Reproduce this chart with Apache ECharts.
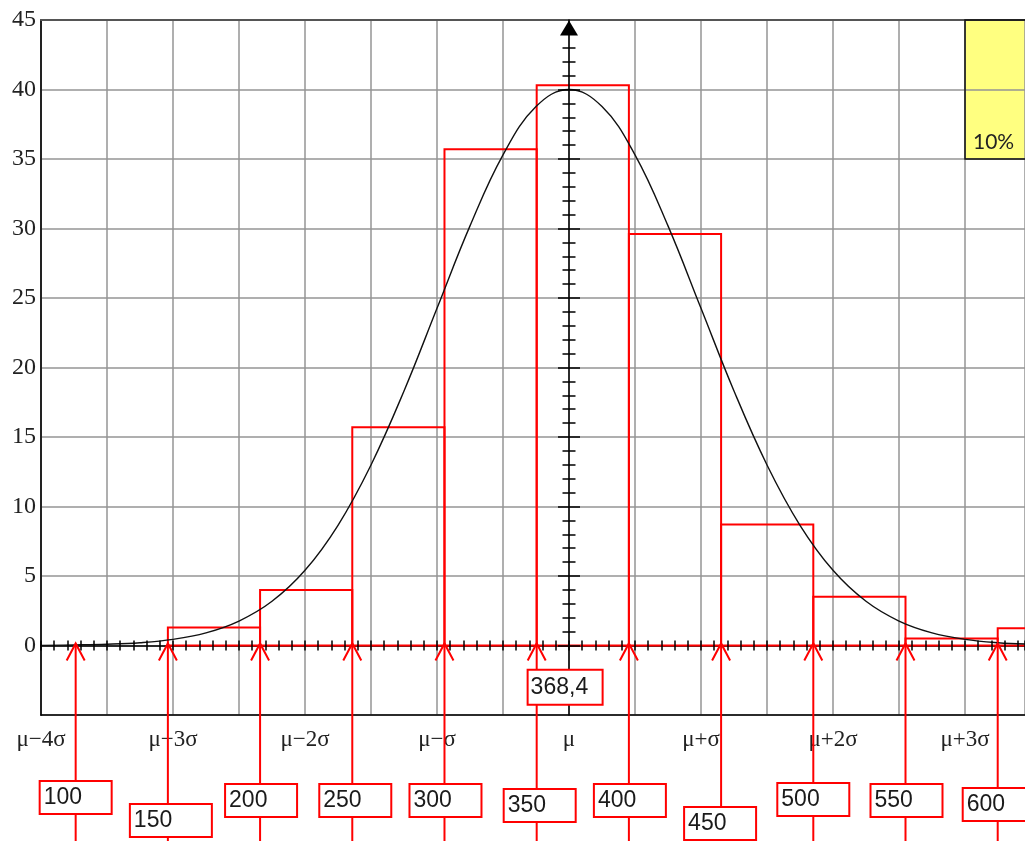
<!DOCTYPE html>
<html>
<head>
<meta charset="utf-8">
<script src="https://cdn.jsdelivr.net/npm/echarts@6/dist/echarts.min.js"></script>
<style>
  html, body { margin: 0; padding: 0; background: #ffffff; }
  #chart { width: 1025px; height: 841px; }
</style>
</head>
<body>
<div id="chart"></div>
<script>
// ---- data ----------------------------------------------------------------
const mean = 368.4;
const meanLabel = '368,4';

// histogram classes: lower bound, upper bound, bar height
const binLower = [150, 200, 250, 300, 350, 400, 450, 500, 550, 600];
const binUpper = [200, 250, 300, 350, 400, 450, 500, 550, 600, 650];
const binHeight = [1.3, 4.0, 15.7, 35.7, 40.3, 29.6, 8.7, 3.5, 0.5, 1.25];

// class boundaries pointed at from below the axis
const boundaries = [100, 150, 200, 250, 300, 350, 400, 450, 500, 550, 600];

// normal curve, x in sigma units from the mean
const curveZ = [-4, -3.75, -3.5, -3.25, -3, -2.75, -2.5, -2.25, -2, -1.75, -1.5, -1.25,
  -1, -0.75, -0.5, -0.25, 0, 0.25, 0.5, 0.75, 1, 1.25, 1.5, 1.75, 2, 2.25, 2.5, 2.75,
  3, 3.25, 3.5, 3.75];
const curveY = [0.01, 0.04, 0.09, 0.2, 0.44, 0.91, 1.76, 3.18, 5.41, 8.65, 12.99, 18.31,
  24.26, 30.19, 35.3, 38.77, 40, 38.77, 35.3, 30.19, 24.26, 18.31, 12.99, 8.65, 5.41, 3.18,
  1.76, 0.91, 0.44, 0.2, 0.09, 0.04];

// sigma scale labels
const sigmaTicks = [-4, -3, -2, -1, 0, 1, 2, 3];
const sigmaLabels = ['μ−4σ', 'μ−3σ', 'μ−2σ', 'μ−σ', 'μ', 'μ+σ', 'μ+2σ', 'μ+3σ'];

// upper tail note
const tailFrom = 3;          // sigma units
const tailBand = [35, 45];   // y range of the note box
const tailText = '10%';

// y axis
const yMin = -5, yMax = 45, yStep = 5;

// ---- layout --------------------------------------------------------------
const zMin = -4, zMax = 3.4545;       // sigma-axis extent
const vMin = 81.2, vMax = 614.8;      // value-axis extent
const tagDrop = [66, 89, 69, 69, 69, 74, 69, 92, 68, 69, 73]; // px below plot bottom
const tagWidth = [72, 82, 72, 72, 72, 72, 72, 72, 72, 72, 72];
const tagShift = [-36, -38, -35, -33, -35, -33, -35, -37, -36, -35, -35];

const RED = '#ff0000';
const GRID = '#959595';
const TAG_FONT = '23px "Liberation Sans", Arial, sans-serif';

const longTicks = [];
const shortTicks = [];
for (let v = 0; v < yMax; v++) {
  if (v % 5 === 0) longTicks.push(v); else shortTicks.push(v);
}

function sigmaLabel(v) {
  const k = Math.round(v);
  if (Math.abs(v - k) > 1e-6) return '';
  const i = sigmaTicks.indexOf(k);
  return i >= 0 ? sigmaLabels[i] : '';
}

const hiddenParts = {
  axisLabel: { show: false },
  splitLine: { show: false },
  axisTick: { show: false }
};

function zeroTickAxis(inside) {
  return {
    type: 'value', min: zMin, max: zMax, interval: 0.1, z: 3,
    axisLine: { show: false, onZero: true, onZeroAxisIndex: 0 },
    axisTick: { show: true, inside: inside, length: 5, lineStyle: { color: '#000', width: 1.5 } },
    axisLabel: { show: false }, splitLine: { show: false }
  };
}

function meanTickAxis(values, len, inside) {
  return {
    type: 'value', min: yMin, max: yMax, z: 3,
    axisLine: { show: false, onZero: true, onZeroAxisIndex: 0 },
    axisTick: { show: true, inside: inside, length: len, customValues: values,
      lineStyle: { color: '#000', width: 1.5 } },
    axisLabel: { show: false }, splitLine: { show: false }
  };
}

const chart = echarts.init(document.getElementById('chart'), null, { renderer: 'canvas' });

chart.setOption({
  animation: false,
  backgroundColor: '#ffffff',
  grid: { left: 41, right: 0, top: 20, bottom: 126, containLabel: false, outerBoundsMode: 'none' },
  xAxis: [
    { // sigma scale: grid lines and labels
      type: 'value', min: zMin, max: zMax, interval: 0.5, position: 'bottom', z: 1,
      axisLine: { show: true, onZero: false, lineStyle: { color: '#000', width: 1.5 } },
      axisTick: { show: false },
      axisLabel: {
        show: true, margin: 13, formatter: sigmaLabel, color: '#222',
        fontFamily: '"Liberation Serif", "DejaVu Serif", serif', fontSize: 23,
        showMinLabel: true, showMaxLabel: false
      },
      splitLine: { show: true, lineStyle: { color: GRID, width: 1.5 } }
    },
    { // value scale for the histogram and boundary tags
      type: 'value', min: vMin, max: vMax, show: false
    },
    { // top frame
      type: 'value', min: zMin, max: zMax, position: 'top', z: 1,
      axisLine: { show: true, onZero: false, lineStyle: { color: '#555', width: 2 } },
      ...hiddenParts
    },
    { // zero line
      type: 'value', min: zMin, max: zMax, z: 1,
      axisLine: { show: true, onZero: true, onZeroAxisIndex: 0, lineStyle: { color: '#000', width: 1.5 } },
      ...hiddenParts
    },
    zeroTickAxis(false),
    zeroTickAxis(true)
  ],
  yAxis: [
    {
      type: 'value', min: yMin, max: yMax, interval: yStep, position: 'left', z: 1,
      axisLine: { show: true, onZero: false, lineStyle: { color: '#222', width: 2 } },
      axisTick: { show: false },
      axisLabel: {
        show: true, margin: 5, color: '#222',
        fontFamily: '"Liberation Serif", "DejaVu Serif", serif', fontSize: 24,
        formatter: v => (v < 0 ? '' : String(v))
      },
      splitLine: { show: true, lineStyle: { color: GRID, width: 1.5 } }
    },
    { // vertical axis through the mean, with arrow head
      type: 'value', min: yMin, max: yMax, z: 3,
      axisLine: {
        show: true, onZero: true, onZeroAxisIndex: 0,
        symbol: ['none', 'triangle'], symbolSize: [18, 15], symbolOffset: [0, -8],
        lineStyle: { color: '#000', width: 1.5 }
      },
      ...hiddenParts
    },
    meanTickAxis(longTicks, 11, false),
    meanTickAxis(longTicks, 11, true),
    meanTickAxis(shortTicks, 6.5, false),
    meanTickAxis(shortTicks, 6.5, true)
  ],
  series: [
    { // tail note fill
      type: 'custom', xAxisIndex: 0, yAxisIndex: 0, z: 0, silent: true,
      data: [[tailFrom, tailBand[0], tailBand[1]]],
      renderItem(params, api) {
        const a = api.coord([api.value(0), api.value(2)]);
        const b = api.coord([api.value(0), api.value(1)]);
        return {
          type: 'rect',
          shape: { x: a[0], y: a[1], width: api.getWidth() - a[0] + 5, height: b[1] - a[1] },
          style: { fill: '#ffff80' }
        };
      }
    },
    { // histogram bars
      type: 'custom', xAxisIndex: 1, yAxisIndex: 0, z: 2, silent: true,
      encode: { x: [0, 1], y: 2 },
      data: binLower.map((lo, i) => [lo, binUpper[i], binHeight[i]]),
      renderItem(params, api) {
        const p0 = api.coord([api.value(0), api.value(2)]);
        const p1 = api.coord([api.value(1), 0]);
        return {
          type: 'rect',
          shape: { x: p0[0], y: p0[1], width: p1[0] - p0[0], height: p1[1] - p0[1] },
          style: { fill: 'transparent', stroke: RED, lineWidth: 2 }
        };
      }
    },
    { // normal curve
      type: 'line', xAxisIndex: 0, yAxisIndex: 0, z: 2, silent: true,
      data: curveZ.map((z, i) => [z, curveY[i]]),
      showSymbol: false, symbol: 'none', smooth: 0.4,
      lineStyle: { color: '#111', width: 1.4 }
    },
    { // tail note border and text
      type: 'custom', xAxisIndex: 0, yAxisIndex: 0, z: 3, silent: true,
      data: [[tailFrom, tailBand[0], tailBand[1]]],
      renderItem(params, api) {
        const a = api.coord([api.value(0), api.value(2)]);
        const b = api.coord([api.value(0), api.value(1)]);
        const r = api.getWidth() + 5;
        return {
          type: 'group',
          children: [
            { type: 'polyline',
              shape: { points: [[r, a[1]], [a[0], a[1]], [a[0], b[1]], [r, b[1]]] },
              style: { fill: null, stroke: '#111', lineWidth: 1.5 } },
            { type: 'text', x: a[0] + 8, y: b[1] - 17,
              style: { text: tailText, fill: '#222', font: '21px Lato, "Open Sans", sans-serif',
                align: 'left', verticalAlign: 'middle' } }
          ]
        };
      }
    },
    { // boundary arrows with their value tags
      type: 'custom', xAxisIndex: 1, yAxisIndex: 0, z: 5, silent: true, clip: false,
      data: boundaries.map((b, i) => [b, i]),
      renderItem(params, api) {
        const v = api.value(0);
        const i = api.value(1);
        const p = api.coord([v, 0]);
        const bottom = api.coord([v, yMin])[1];
        const x = p[0], y0 = p[1];
        const top = bottom + tagDrop[i];
        const left = x + tagShift[i];
        return {
          type: 'group',
          children: [
            { type: 'line', shape: { x1: x, y1: y0 - 2, x2: x, y2: api.getHeight() + 2 },
              style: { stroke: RED, lineWidth: 2 } },
            { type: 'polyline', shape: { points: [[x - 9, y0 + 15], [x, y0 - 2], [x + 9, y0 + 15]] },
              style: { fill: null, stroke: RED, lineWidth: 2 } },
            { type: 'rect', shape: { x: left, y: top, width: tagWidth[i], height: 33 },
              style: { fill: '#ffffff', stroke: RED, lineWidth: 2 } },
            { type: 'text', x: left + 4, y: top + 17,
              style: { text: String(v), fill: '#1a1a1a', font: TAG_FONT,
                align: 'left', verticalAlign: 'middle' } }
          ]
        };
      }
    },
    { // mean value tag
      type: 'custom', xAxisIndex: 1, yAxisIndex: 0, z: 5, silent: true, clip: false,
      data: [[mean]],
      renderItem(params, api) {
        const p = api.coord([api.value(0), -1.75]);
        const left = p[0] - 43;
        return {
          type: 'group',
          children: [
            { type: 'rect', shape: { x: left, y: p[1], width: 75, height: 35 },
              style: { fill: '#ffffff', stroke: RED, lineWidth: 2 } },
            { type: 'text', x: left + 3, y: p[1] + 18,
              style: { text: meanLabel, fill: '#1a1a1a', font: TAG_FONT,
                align: 'left', verticalAlign: 'middle' } }
          ]
        };
      }
    }
  ]
});
</script>
</body>
</html>
